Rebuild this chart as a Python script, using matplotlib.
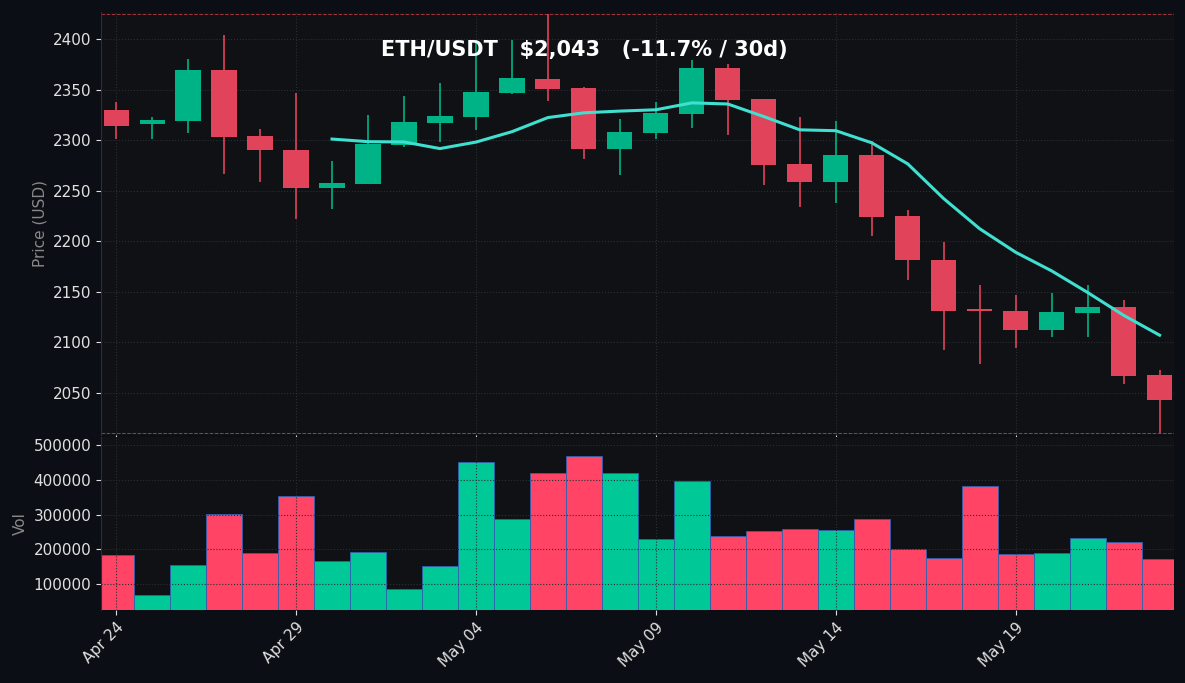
import matplotlib
matplotlib.use("Agg")
import matplotlib.pyplot as plt
import matplotlib.dates as mdates
import numpy as np
import pandas as pd

dates = pd.date_range("2024-04-24", periods=30, freq="D")
opens = [2330, 2316, 2319, 2370, 2304, 2290, 2253, 2257, 2295, 2317, 2323, 2347, 2361, 2352, 2291,
         2307, 2326, 2372, 2341, 2276, 2259, 2285, 2225, 2181, 2132, 2131, 2112, 2129, 2135, 2067]
highs = [2338, 2323, 2380, 2404, 2311, 2347, 2279, 2325, 2344, 2357, 2399, 2399, 2425, 2353, 2321,
         2338, 2379, 2375, 2341, 2323, 2319, 2299, 2231, 2199, 2157, 2147, 2149, 2157, 2142, 2072]
lows = [2301, 2301, 2307, 2267, 2259, 2222, 2232, 2257, 2293, 2298, 2310, 2346, 2339, 2281, 2266,
        2301, 2312, 2305, 2256, 2234, 2238, 2205, 2162, 2092, 2078, 2094, 2105, 2105, 2059, 2010]
closes = [2314, 2320, 2370, 2303, 2290, 2253, 2258, 2296, 2318, 2324, 2348, 2362, 2351, 2291, 2308,
          2327, 2372, 2340, 2275, 2259, 2285, 2224, 2181, 2131, 2131, 2112, 2130, 2135, 2066, 2043]
volumes = [184000, 69000, 155000, 302000, 190000, 354000, 167000, 193000, 86000, 153000,
           452000, 288000, 420000, 469000, 420000, 230000, 397000, 239000, 253000, 259000,
           256000, 288000, 201000, 176000, 383000, 187000, 190000, 233000, 222000, 173000]

UP, DOWN = "#00b386", "#e0435a"
VUP, VDOWN = "#00c896", "#ff4466"
BG, AXBG = "#0b0e14", "#0f1115"

x = mdates.date2num(dates)
o, h, l, c = map(np.array, (opens, highs, lows, closes))
up = c >= o
ma = pd.Series(closes).rolling(7).mean()

fig = plt.figure(figsize=(11.85, 6.83), dpi=100, facecolor=BG)
ax = fig.add_axes([101/1185, 1-435/683, 1073/1185, 423/683], facecolor=AXBG)
axv = fig.add_axes([101/1185, 1-610/683, 1073/1185, 173/683], facecolor=AXBG, sharex=ax)

cols = np.where(up, UP, DOWN)
ax.vlines(x, l, h, colors=cols, linewidth=1.2, zorder=2)
ax.bar(x, np.maximum(np.abs(c - o), 1.5), bottom=np.minimum(o, c), width=0.7,
       color=cols, zorder=3)
ax.plot(x, ma, color="#40e0d0", linewidth=2.2, zorder=4)
ax.axhline(max(highs), color=DOWN, linestyle="--", linewidth=0.7, alpha=0.7)
ax.axhline(min(lows), color=UP, linestyle="--", linewidth=0.7, alpha=0.7)
ax.set_ylim(min(lows) - 2, max(highs) + 2)
ax.set_ylabel("Price (USD)", color="#888888", fontsize=11)
ax.text(0.45, 0.91, "ETH/USDT   $2,043   (-11.7% / 30d)", transform=ax.transAxes,
        ha="center", va="center", color="white", fontsize=15, fontweight="bold")

axv.bar(x, volumes, width=1.0, color=np.where(up, VUP, VDOWN), edgecolor="#3060b0", linewidth=0.6)
axv.set_ylim(26000, 523000)
axv.set_yticks([100000, 200000, 300000, 400000, 500000])
axv.set_ylabel("Vol", color="#888888", fontsize=11)

for a in (ax, axv):
    a.grid(True, color="#2a2e36", linestyle=":", linewidth=0.8)
    a.tick_params(colors="#e0e0e0", labelsize=11)
    for s in a.spines.values():
        s.set_visible(False)
    a.spines["left"].set_visible(True)
    a.spines["left"].set_color("#2a2e36")

ax.set_xlim(x[0] - 0.42, x[-1] + 0.4)
axv.xaxis.set_major_locator(mdates.DayLocator(bymonthday=[]) if False else matplotlib.ticker.FixedLocator(x[::5]))
axv.xaxis.set_major_formatter(mdates.DateFormatter("%b %d"))
plt.setp(ax.get_xticklabels(), visible=False)
plt.setp(axv.get_xticklabels(), rotation=45, ha="right", rotation_mode="anchor")

fig.savefig("out.png", dpi=100, facecolor=BG)
